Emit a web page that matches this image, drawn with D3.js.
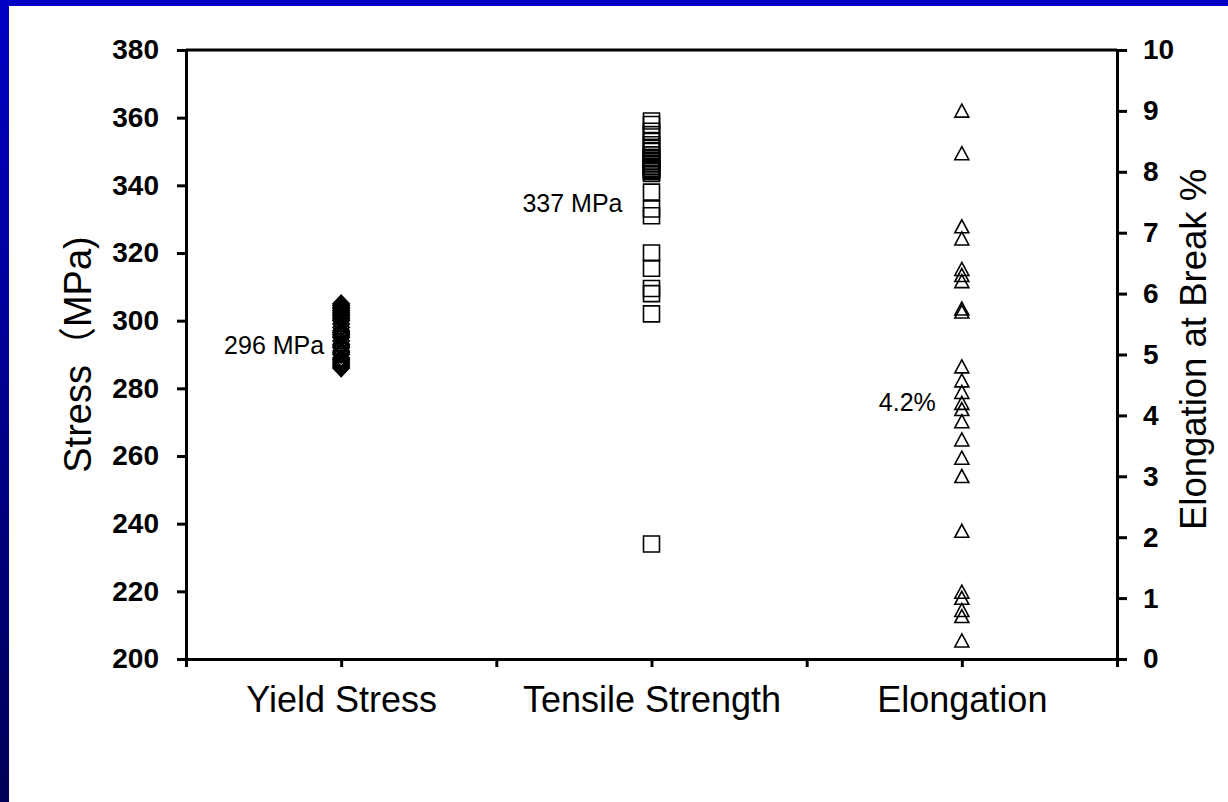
<!DOCTYPE html>
<html>
<head>
<meta charset="utf-8">
<script src="https://cdn.jsdelivr.net/npm/d3@7"></script>
<style>
  html, body { margin: 0; padding: 0; background: #fff; }
  svg { display: block; }
  text { font-family: "Liberation Sans", Arial, "Noto Sans CJK SC", sans-serif; fill: #000; }
</style>
</head>
<body>
<svg id="chart" width="1228" height="802"></svg>
<script>
// Category positions along the x axis
const categories = ["Yield Stress", "Tensile Strength", "Elongation"];
const categoryPos = [1, 3, 5];

// Yield stress measurements (MPa)
const yieldStress = [305, 304.5, 304, 303.5, 303, 302.5, 302, 301.5, 301, 300.5, 300, 299,
  298, 297, 296.5, 296, 295.5, 295, 294, 293, 292.5, 292, 291, 290.5, 290, 289,
  288.5, 288, 287.5, 287, 286.5, 286];

// Tensile strength measurements (MPa)
const tensileStrength = [359, 358, 356, 355, 353, 352, 351, 350, 349, 348, 347.5, 347,
  346.5, 346, 345.5, 345, 344.8, 344.5, 344, 343.5, 338, 333, 331, 320, 315.5,
  309.5, 308, 302, 234];

// Elongation at break (%)
const elongation = [9.0, 8.3, 7.1, 6.9, 6.4, 6.3, 6.2, 5.75, 5.7, 4.8, 4.57, 4.38,
  4.2, 4.1, 3.9, 3.6, 3.3, 3.0, 2.1, 1.1, 1.0, 0.8, 0.7, 0.3];

// Axis ticks
const stressTicks = [200, 220, 240, 260, 280, 300, 320, 340, 360, 380];
const elongTicks = [0, 1, 2, 3, 4, 5, 6, 7, 8, 9, 10];
const xTicks = [0, 1, 2, 3, 4, 5, 6];

// Mean annotations
const meanLabels = ["296 MPa", "337 MPa", "4.2%"];

const svg = d3.select("#chart");

// slide frame: blue strips along the top and left edges
const defs = svg.append("defs");
const grad = defs.append("linearGradient").attr("id", "edge")
  .attr("x1", 0).attr("y1", 0).attr("x2", 0).attr("y2", 1);
grad.append("stop").attr("offset", "0%").attr("stop-color", "#0000c4");
grad.append("stop").attr("offset", "100%").attr("stop-color", "#000058");
svg.append("rect").attr("x", 0).attr("y", 0).attr("width", 9).attr("height", 802).attr("fill", "url(#edge)");
svg.append("rect").attr("x", 0).attr("y", 0).attr("width", 1228).attr("height", 6).attr("fill", "#0000c4");

const plotL = 186, plotR = 1117, plotT = 50, plotB = 659;

const x = d3.scaleLinear().domain([0, 6]).range([plotL, plotR]);
const yL = d3.scaleLinear().domain([200, 380]).range([plotB, plotT]);
const yR = d3.scaleLinear().domain([0, 10]).range([plotB, plotT]);

const axisStyle = g => {
  g.selectAll("path.domain").attr("stroke", "#000").attr("stroke-width", 3);
  g.selectAll(".tick line").attr("stroke", "#000").attr("stroke-width", 3);
};

// bottom axis with category labels
const gx = svg.append("g").attr("transform", `translate(0,${plotB})`)
  .call(d3.axisBottom(x).tickValues(xTicks).tickSizeInner(8).tickSizeOuter(0).tickPadding(19)
    .tickFormat(d => { const i = categoryPos.indexOf(d); return i >= 0 ? categories[i] : ""; }))
  .call(axisStyle);
gx.selectAll("text").attr("font-size", 36).attr("font-family", null);

// left stress axis
const gl = svg.append("g").attr("transform", `translate(${plotL},0)`)
  .call(d3.axisLeft(yL).tickValues(stressTicks).tickSizeInner(9).tickSizeOuter(0).tickPadding(18))
  .call(axisStyle);
gl.selectAll("text").attr("font-size", 28).attr("font-weight", "bold").attr("font-family", null);

// right elongation axis
const gr = svg.append("g").attr("transform", `translate(${plotR},0)`)
  .call(d3.axisRight(yR).tickValues(elongTicks).tickSizeInner(10).tickSizeOuter(0).tickPadding(16))
  .call(axisStyle);
gr.selectAll("text").attr("font-size", 28).attr("font-weight", "bold").attr("font-family", null);

// top frame line
svg.append("line").attr("x1", plotL).attr("x2", plotR).attr("y1", plotT).attr("y2", plotT)
  .attr("stroke", "#000").attr("stroke-width", 3);

// axis titles
svg.append("text")
  .attr("transform", `translate(91,${(plotT + plotB) / 2}) rotate(-90)`)
  .attr("text-anchor", "middle").attr("font-size", 38)
  .text("Stress（MPa)");
svg.append("text")
  .attr("transform", `translate(1206,${(plotT + plotB) / 2 - 5}) rotate(-90)`)
  .attr("text-anchor", "middle").attr("font-size", 36.5)
  .text("Elongation at Break %");

// marker shapes
const diamond = (cx, cy) => `M${cx},${cy - 8.5}L${cx + 8},${cy}L${cx},${cy + 8.5}L${cx - 8},${cy}Z`;
const square = (cx, cy) => `M${cx - 8},${cy - 8}h16v16h-16Z`;
const triangle = (cx, cy) => `M${cx},${cy - 6.8}L${cx + 7},${cy + 6.2}L${cx - 7},${cy + 6.2}Z`;

svg.append("g").selectAll("path").data(yieldStress).join("path")
  .attr("d", d => diamond(x(categoryPos[0]), yL(d)))
  .attr("fill", "none").attr("stroke", "#000").attr("stroke-width", 1.8);

svg.append("g").selectAll("path").data(tensileStrength).join("path")
  .attr("d", d => square(x(categoryPos[1]), yL(d)))
  .attr("fill", "none").attr("stroke", "#000").attr("stroke-width", 1.6);

svg.append("g").selectAll("path").data(elongation).join("path")
  .attr("d", d => triangle(x(categoryPos[2]), yR(d)))
  .attr("fill", "none").attr("stroke", "#000").attr("stroke-width", 1.6);

// mean annotations
const ann = [
  { text: meanLabels[0], x: x(categoryPos[0]) - 17, y: 354 },
  { text: meanLabels[1], x: x(categoryPos[1]) - 29, y: 212 },
  { text: meanLabels[2], x: x(categoryPos[2]) - 26, y: 411 }
];
svg.append("g").selectAll("text").data(ann).join("text")
  .attr("x", d => d.x).attr("y", d => d.y)
  .attr("text-anchor", "end").attr("font-size", 25)
  .text(d => d.text);
</script>
</body>
</html>
